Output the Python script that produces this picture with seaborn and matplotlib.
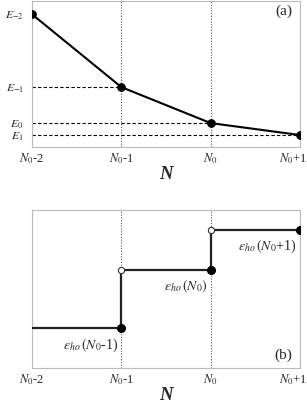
import matplotlib
matplotlib.use("Agg")
import matplotlib.pyplot as plt
import matplotlib.transforms as mtrans
import seaborn as sns
import pandas as pd

sns.set_style("white")
plt.rcParams['font.family'] = ['Liberation Serif', 'DejaVu Serif']
plt.rcParams['mathtext.fontset'] = 'stix'

# data
n_pos = [0, 1, 2, 3]
n_labels = [r'$N_0$-2', r'$N_0$-1', r'$N_0$', r'$N_0$+1']
energies = [0.909, 0.409, 0.162, 0.080]
e_labels = [r'$E_{-2}$', r'$E_{-1}$', r'$E_0$', r'$E_1$']
eps_levels = [0.25, 0.623, 0.873, 0.873]
eps_labels = [r'$\varepsilon_{ho}\,(N_0$-1)', r'$\varepsilon_{ho}\,(N_0)$', r'$\varepsilon_{ho}\,(N_0$+1)']

fig = plt.figure(figsize=(3.07, 4.03), dpi=100)
ax1 = fig.add_axes([0.1042, 0.636, 0.873, 0.3615])
ax2 = fig.add_axes([0.1042, 0.0876, 0.873, 0.391])

for ax in (ax1, ax2):
    ax.set_xlim(0, 3)
    ax.set_ylim(0, 1)
    for s in ax.spines.values():
        s.set_color('#bbbbbb')
        s.set_linewidth(0.8)
    for x in n_pos:
        ax.axvline(x, color='#555555', ls=(0, (1, 1.5)), lw=0.8, zorder=1)
    ax.set_xticks(n_pos)
    ax.set_xticklabels(n_labels, fontsize=9)
    ax.tick_params(axis='x', length=0, pad=3)
    ax.tick_params(axis='y', length=0, pad=6)
    ax.set_xlabel('N', fontsize=13.5, fontweight='bold', fontstyle='italic', labelpad=0)
    last = ax.get_xticklabels()[-1]
    last.set_transform(last.get_transform() + mtrans.ScaledTranslation(-7 / 100, 0, fig.dpi_scale_trans))

# top panel
df1 = pd.DataFrame({'N': n_pos, 'E': energies})
sns.lineplot(data=df1, x='N', y='E', ax=ax1, color='black', lw=1.5,
             marker='o', markersize=5.5, markeredgecolor='black', zorder=3)
for x, e in zip(n_pos[1:], energies[1:]):
    ax1.plot([0, x], [e, e], color='black', ls=(0, (3, 2)), lw=0.8, zorder=2)
ax1.set_yticks(energies)
ax1.set_yticklabels(e_labels, fontsize=8.5)
ax1.set_ylabel('')
ax1.text(0.97, 0.93, '(a)', transform=ax1.transAxes, ha='right', va='center', fontsize=11)

# bottom panel
df2 = pd.DataFrame({'N': n_pos, 'eps': eps_levels})
sns.lineplot(data=df2, x='N', y='eps', ax=ax2, color='#222222', lw=1.6,
             drawstyle='steps-post', zorder=3)
ax2.plot(n_pos[1:], eps_levels[:3], 'o', color='black', ms=5.5, zorder=4)
ax2.plot(n_pos[1:3], eps_levels[1:3], 'o', mfc='white', mec='#333333', ms=4.5, mew=0.8, zorder=4)
ax2.set_yticks([])
ax2.set_ylabel('')
for x, e, lab in zip(n_pos[1:], eps_levels[:3], eps_labels):
    ax2.text(x - 0.04, e - 0.05, lab, ha='right', va='top', fontsize=10)
ax2.text(0.97, 0.08, '(b)', transform=ax2.transAxes, ha='right', va='center', fontsize=11)

fig.savefig('out.png', dpi=100)
